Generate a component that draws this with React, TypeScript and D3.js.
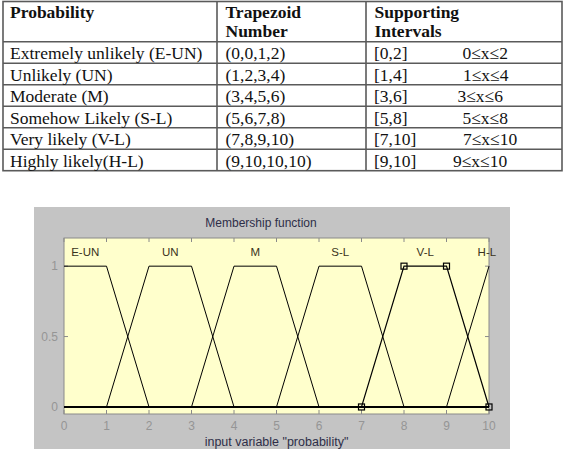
import React from "react";
import * as d3 from "d3";

// ---- Table data ----
const tableHeaders = [["Probability"], ["Trapezoid", "Number"], ["Supporting", "Intervals"]];
const probLabels = [
  "Extremely unlikely (E-UN)",
  "Unlikely (UN)",
  "Moderate (M)",
  "Somehow Likely (S-L)",
  "Very likely (V-L)",
  "Highly likely(H-L)",
];
const trapNumbers = ["(0,0,1,2)", "(1,2,3,4)", "(3,4,5,6)", "(5,6,7,8)", "(7,8,9,10)", "(9,10,10,10)"];
const intervals = ["[0,2]", "[1,4]", "[3,6]", "[5,8]", "[7,10]", "[9,10]"];
const inequalities = ["0≤x≤2", "1≤x≤4", "3≤x≤6", "5≤x≤8", "7≤x≤10", "9≤x≤10"];

// ---- Chart data ----
const mfNames = ["E-UN", "UN", "M", "S-L", "V-L", "H-L"];
const mfParams: number[][] = [
  [0, 0, 1, 2],
  [1, 2, 3, 4],
  [3, 4, 5, 6],
  [5, 6, 7, 8],
  [7, 8, 9, 10],
  [9, 10, 10, 10],
];
const mfLabelPos = [0.5, 2.5, 4.5, 6.5, 8.5, 9.95];
const selectedMf = 4;
const xTicks = [0, 1, 2, 3, 4, 5, 6, 7, 8, 9, 10];
const yTicks = [0, 0.5, 1];
const chartTitle = "Membership function";
const xAxisTitle = 'input variable "probability"';

// ---- Layout ----
const W = 566;
const H = 471;
const tableLeft = 3;
const tableRight = 562;
const tableTop = 1.5;
const headerBottom = 41.7;
const rowH = 21.5;
const colX = [tableLeft, 217, 366, tableRight];
const ineqX = [462.5, 463, 457.5, 462.5, 463, 453];

const panel = { x: 34, y: 207, w: 476, h: 242 };
const plot = { left: 64, right: 489, top: 238, bottom: 414 };
const titleX = 261;

function trap(x: number, p: number[]) {
  const [a, b, c, d] = p;
  const left = x < a ? 0 : x < b ? (x - a) / (b - a) : 1;
  const right = x > d ? 0 : x > c ? (d - x) / (d - c) : 1;
  return Math.min(left, right);
}

export default function App() {
  const x = d3.scaleLinear().domain([0, 10]).range([plot.left, plot.right]);
  const y = d3.scaleLinear().domain([-0.05, 1.2]).range([plot.bottom, plot.top]);
  const line = d3
    .line<[number, number]>()
    .x((d) => x(d[0]))
    .y((d) => y(d[1]));

  const serif = "'Liberation Serif', 'Times New Roman', serif";
  const sans = "'Liberation Sans', Arial, sans-serif";
  const tableStroke = "#5a5a5a";
  const nRows = probLabels.length;
  const tableBottom = headerBottom + nRows * rowH;

  return (
    <svg
      width={W}
      height={H}
      style={{ position: "absolute", left: 0, top: 0, background: "#fff" }}
    >
      {/* ---------- Table ---------- */}
      <g>
        <rect
          x={tableLeft}
          y={tableTop}
          width={tableRight - tableLeft}
          height={tableBottom - tableTop}
          fill="none"
          stroke={tableStroke}
          strokeWidth={1.6}
        />
        {colX.slice(1, 3).map((cx, i) => (
          <line key={"c" + i} x1={cx} x2={cx} y1={tableTop} y2={tableBottom} stroke={tableStroke} strokeWidth={1.6} />
        ))}
        {d3.range(nRows).map((i) => (
          <line
            key={"r" + i}
            x1={tableLeft}
            x2={tableRight}
            y1={headerBottom + i * rowH}
            y2={headerBottom + i * rowH}
            stroke={tableStroke}
            strokeWidth={1.6}
          />
        ))}
        {tableHeaders.map((lines, ci) =>
          lines.map((t, li) => (
            <text
              key={"h" + ci + li}
              x={colX[ci] + (ci === 0 ? 7 : 8.5)}
              y={17.5 + li * 19.5}
              fontFamily={serif}
              fontWeight="bold"
              fontSize={17.5}
              fill="#111"
            >
              {t}
            </text>
          ))
        )}
        {probLabels.map((t, i) => {
          const by = headerBottom + i * rowH + 17.3;
          return (
            <g key={"row" + i} fontFamily={serif} fontSize={17.5} fill="#111">
              <text x={colX[0] + 7} y={by}>{t}</text>
              <text x={colX[1] + 8.5} y={by}>{trapNumbers[i]}</text>
              <text x={colX[2] + 8} y={by}>{intervals[i]}</text>
              <text x={ineqX[i]} y={by}>{inequalities[i]}</text>
            </g>
          );
        })}
      </g>

      {/* ---------- Chart ---------- */}
      <rect x={panel.x} y={panel.y} width={panel.w} height={panel.h} fill="#c4c4c4" />
      <rect
        x={plot.left}
        y={plot.top}
        width={plot.right - plot.left}
        height={plot.bottom - plot.top}
        fill="#ffffcc"
      />
      <text
        x={titleX}
        y={227}
        textAnchor="middle"
        fontFamily={sans}
        fontSize={12}
        fill="#2e2e48"
      >
        {chartTitle}
      </text>

      {/* ticks */}
      {xTicks.map((t) => (
        <g key={"xt" + t} stroke="#8a8a8a" strokeWidth={1}>
          <line x1={x(t)} x2={x(t)} y1={plot.top} y2={plot.top + 4} />
          <line x1={x(t)} x2={x(t)} y1={plot.bottom} y2={plot.bottom - 4} />
        </g>
      ))}
      {yTicks.map((t) => (
        <g key={"yt" + t} stroke="#8a8a8a" strokeWidth={1}>
          <line x1={plot.left} x2={plot.left + 4} y1={y(t)} y2={y(t)} />
          <line x1={plot.right} x2={plot.right - 4} y1={y(t)} y2={y(t)} />
        </g>
      ))}
      <rect
        x={plot.left}
        y={plot.top}
        width={plot.right - plot.left}
        height={plot.bottom - plot.top}
        fill="none"
        stroke="#8a8a8a"
        strokeWidth={1}
      />

      {/* tick labels */}
      {xTicks.map((t) => (
        <text
          key={"xl" + t}
          x={x(t)}
          y={430}
          textAnchor="middle"
          fontFamily={sans}
          fontSize={12}
          fill="#959595"
        >
          {t}
        </text>
      ))}
      {yTicks.map((t) => (
        <text
          key={"yl" + t}
          x={58}
          y={y(t) + 4}
          textAnchor="end"
          fontFamily={sans}
          fontSize={12}
          fill="#959595"
        >
          {t}
        </text>
      ))}
      <text
        x={(plot.left + plot.right) / 2}
        y={446}
        textAnchor="middle"
        fontFamily={sans}
        fontSize={12.5}
        fill="#2e2e48"
      >
        {xAxisTitle}
      </text>

      {/* membership functions */}
      {mfParams.map((p, i) => {
        const xs = Array.from(new Set([0, ...p, 10])).sort((a, b) => a - b);
        const pts: [number, number][] = xs.map((v) => [v, trap(v, p)]);
        return (
          <path
            key={"mf" + i}
            d={line(pts) || ""}
            fill="none"
            stroke="#000"
            strokeWidth={i === selectedMf ? 1.2 : 1}
          />
        );
      })}
      <line x1={plot.left} x2={plot.right} y1={y(0)} y2={y(0)} stroke="#000" strokeWidth={2} />
      {mfParams[selectedMf].map((v, j) => {
        const yy = trap(v, mfParams[selectedMf]);
        return (
          <rect
            key={"mk" + j}
            x={x(v) - 3}
            y={y(yy) - 3}
            width={6}
            height={6}
            fill="none"
            stroke="#000"
            strokeWidth={1.2}
          />
        );
      })}
      {mfNames.map((n, i) => (
        <text
          key={"lab" + i}
          x={x(mfLabelPos[i])}
          y={256}
          textAnchor="middle"
          fontFamily={sans}
          fontSize={11.5}
          fill="#3a3320"
        >
          {n}
        </text>
      ))}
    </svg>
  );
}
